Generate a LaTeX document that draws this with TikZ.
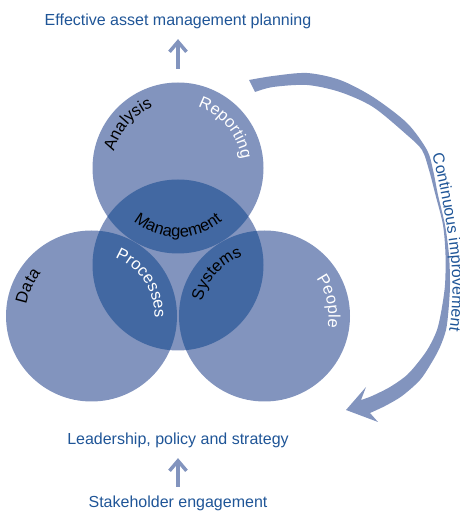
\documentclass[tikz,border=0pt]{standalone}
\usepackage{fontspec}
\setmainfont{Liberation Sans}
\usetikzlibrary{decorations.text, arrows.meta}
\definecolor{lightc}{HTML}{8294BE}
\definecolor{darkc}{HTML}{4268A2}
\definecolor{txtblue}{HTML}{1F5597}
\newcommand\labfont{\fontsize{16.5pt}{19pt}\selectfont}
\newcommand\bigfont{\fontsize{16pt}{19pt}\selectfont}
\begin{document}
\begin{tikzpicture}[x=1pt,y=1pt,
  venn/.style={circle, minimum size=171pt, inner sep=0pt, fill=lightc},
  outtext/.style={font=\bigfont, text=txtblue, inner sep=0pt, anchor=base},
  vlink/.style={draw=lightc, line width=3.5pt, -{Straight Barb[length=10pt,width=17pt]}},
  curved/.style={decorate, decoration={text along path, text align=center, text={#1}}}
]
\useasboundingbox (0,0) rectangle (460,512);
% circles
\node[venn] (T) at (178,344) {};
\node[venn] (M) at (178,247) {};
\node[venn] (L) at (91.5,196) {};
\node[venn] (R) at (264.5,196) {};
\begin{scope}
  \clip (M.center) circle[radius=85.5];
  \fill[darkc] (T.center) circle[radius=85.5];
  \fill[darkc] (L.center) circle[radius=85.5];
  \fill[darkc] (R.center) circle[radius=85.5];
\end{scope}
% curved labels
\path[curved={|\labfont\color{black}|Analysis}] (T.center) ++(179:66) arc[start angle=179, end angle=99, radius=66];
\path[curved={|\labfont\color{white}|Reporting}] (T.center) ++(82:64) arc[start angle=82, end angle=-2, radius=64];
\path[curved={|\labfont\color{black}|Management}] (T.center) ++(200:69) arc[start angle=200, end angle=340, radius=69];
\path[curved={|\labfont\color{white}|Processes}] (L.center) ++(75:63) arc[start angle=75, end angle=-9, radius=63];
\path[curved={|\labfont\color{black}|Systems}] (R.center) ++(178:64) arc[start angle=178, end angle=99, radius=64];
\path[curved={|\labfont\color{black}|Data}] (L.center) ++(185:66) arc[start angle=185, end angle=125, radius=66];
\path[curved={|\labfont\color{white}|People}] (R.center) ++(55:64) arc[start angle=55, end angle=-29, radius=64];
% continuous improvement arrow
\fill[lightc] plot[smooth] coordinates {(249,432) (273,436) (307,439) (340,432) (373,415) (407,389) (427,362) (433,342) (438,317) (445,287) (449,257) (450,227) (448.5,202) (446,182) (440,165) (432,150) (420,132) (402,116) (385,106) (370,99)}
  -- (378,90) -- (346,102) -- (366,125)
  -- plot[smooth] coordinates {(361,112) (372,116) (390,125) (407,137) (420,152) (429,165) (437,182) (441.5,202) (445,227) (445.5,257) (443,287) (435.5,317) (429,342) (422,362) (407,377) (373,405) (340,420) (307,427) (273,425) (255,420)}
  -- cycle;
\path[decorate, decoration={text along path, text align=left, text={|\bigfont\color{txtblue}|Continuous improvement}}]
  plot[smooth] coordinates {(432,357) (437,338) (442,314) (447,284) (451,254) (452.5,224) (451.5,199) (448.5,177) (443,157) (434,137)};
% outer texts
\node[outtext] (plan) at (178,486) {Effective asset management planning};
\node[outtext] (lead) at (178,67) {Leadership, policy and strategy};
\node[outtext] (stake) at (178,4.5) {Stakeholder engagement};
\draw[vlink, shorten <=13.5pt, shorten >=9.6pt] (T.north) -- (plan.south);
\draw[vlink, shorten <=8.8pt, shorten >=9.6pt] (stake.north) -- (lead.south);
\end{tikzpicture}
\end{document}
